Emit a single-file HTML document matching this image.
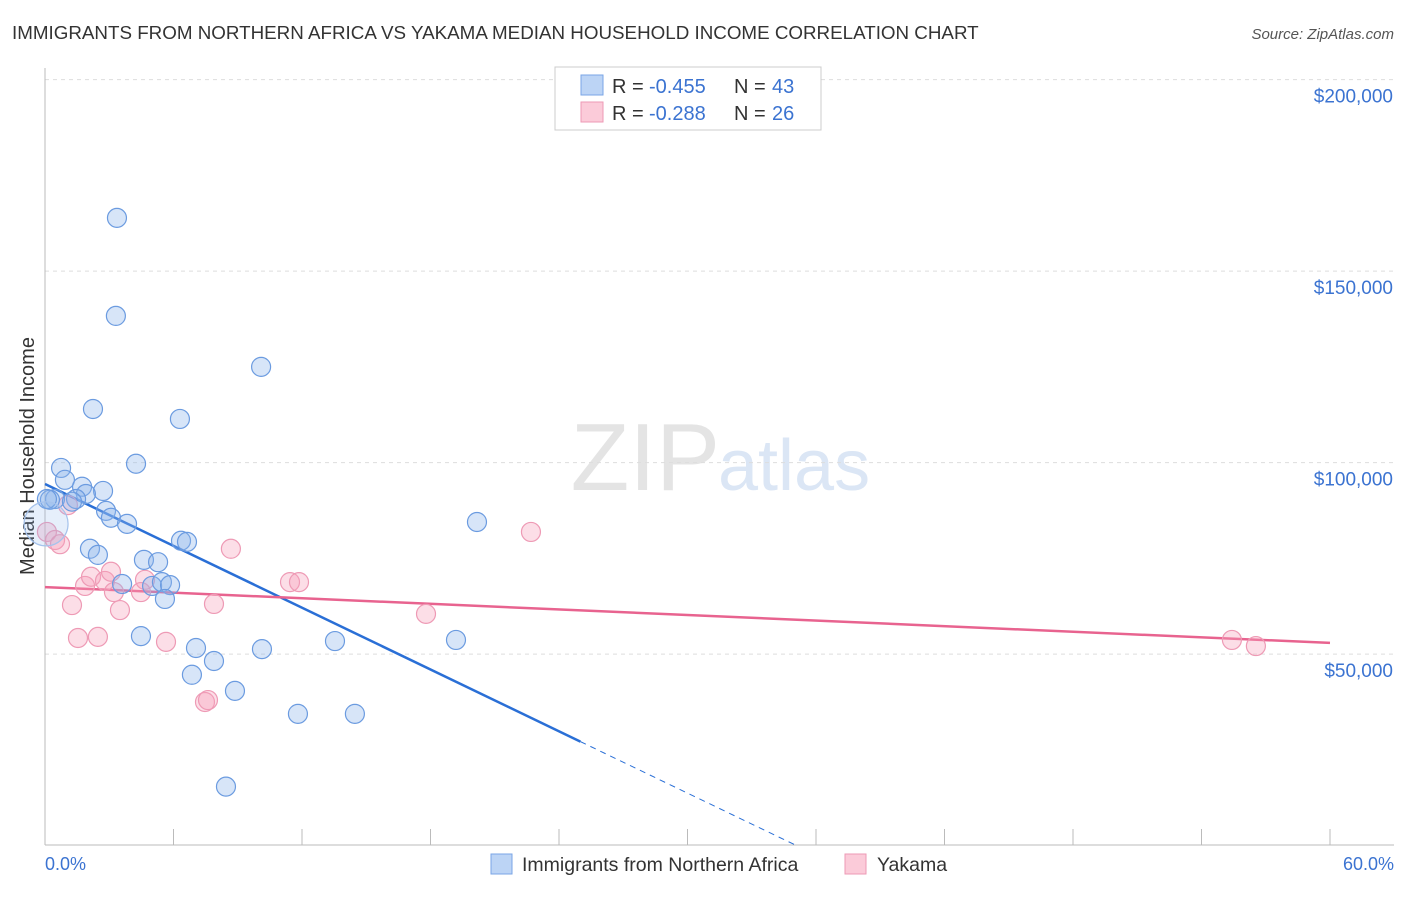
<!DOCTYPE html>
<html><head><meta charset="utf-8"><style>
body{margin:0;background:#fff;font-family:"Liberation Sans",sans-serif;}
svg text{font-family:"Liberation Sans",sans-serif;}
</style></head><body>
<svg id="chart" width="1406" height="892" xmlns="http://www.w3.org/2000/svg">
<text x="12" y="39" font-size="18.8" fill="#333">IMMIGRANTS FROM NORTHERN AFRICA VS YAKAMA MEDIAN HOUSEHOLD INCOME CORRELATION CHART</text>
<text x="1394" y="39" font-size="15" fill="#555" font-style="italic" text-anchor="end">Source: ZipAtlas.com</text>
<text x="720" y="490" font-size="96" fill="#e4e4e4" text-anchor="end" font-family="Liberation Serif">ZIP</text>
<text x="718" y="490" font-size="72" fill="#dbe6f5">atlas</text>
<g id="grid"></g>
<line x1="45" y1="68" x2="45" y2="845" stroke="#bbb"/>
<line x1="45" y1="845" x2="1394" y2="845" stroke="#bbb"/>
<g id="xticks"></g>
<text x="34" y="456" font-size="20" fill="#333" text-anchor="middle" transform="rotate(-90 34 456)">Median Household Income</text>
<text x="45" y="870" font-size="18" fill="#3b73d1">0.0%</text>
<text x="1394" y="870" font-size="18" fill="#3b73d1" text-anchor="end">60.0%</text>
<g id="lines"></g>
<g id="points"></g>
<g>
<rect x="555" y="67" width="266" height="63" fill="#fff" stroke="#ccc"/>
<rect x="581" y="75" width="22" height="20" fill="#bcd4f5" stroke="#7aa5e6"/>
<text x="612" y="93" font-size="20" fill="#333">R =</text><text x="649" y="93" font-size="20" fill="#3b73d1">-0.455</text>
<text x="734" y="93" font-size="20" fill="#333">N =</text><text x="772" y="93" font-size="20" fill="#3b73d1">43</text>
<rect x="581" y="102" width="22" height="20" fill="#fbcbd9" stroke="#ee9ab5"/>
<text x="612" y="120" font-size="20" fill="#333">R =</text><text x="649" y="120" font-size="20" fill="#3b73d1">-0.288</text>
<text x="734" y="120" font-size="20" fill="#333">N =</text><text x="772" y="120" font-size="20" fill="#3b73d1">26</text>
</g>
<g>
<rect x="491" y="854" width="21" height="20" fill="#bcd4f5" stroke="#7aa5e6"/>
<text x="522" y="871" font-size="19.5" fill="#333">Immigrants from Northern Africa</text>
<rect x="845" y="854" width="21" height="20" fill="#fbcbd9" stroke="#ee9ab5"/>
<text x="877" y="871" font-size="19.5" fill="#333">Yakama</text>
</g>
</svg>
<script>
const yTicks=[50000,100000,150000,200000];
const yTickLabels=["$50,000","$100,000","$150,000","$200,000"];
const xTicks=[0,6,12,18,24,30,36,42,48,54,60];
const blueX=[3.36,3.31,10.09,2.24,6.30,4.25,0.75,0.93,1.73,2.71,1.91,1.45,0.47,1.26,2.85,3.08,3.83,20.17,2.10,2.47,6.35,6.63,4.62,5.28,3.60,5.00,5.46,5.84,5.60,4.48,7.05,10.13,13.54,19.19,7.89,6.86,8.87,11.81,14.47,8.45,0.23,0.09,0.05];
const blueY=[163900,138300,125000,114000,111400,99700,98600,95500,93700,92600,91800,90500,90500,89800,87400,85600,84000,84500,77500,75900,79600,79300,74600,74000,68300,67800,68800,68000,64400,54700,51600,51300,53400,53700,48200,44600,40400,34400,34400,15400,90300,90500,84000];
const pinkX=[0.09,0.47,0.70,1.07,1.26,1.54,2.47,1.87,2.15,2.80,3.08,3.22,3.50,4.67,4.48,5.65,7.89,8.68,11.44,11.86,17.79,22.69,7.47,7.61,55.42,56.54];
const pinkY=[81900,79800,78700,88900,62800,54200,54500,67800,70200,69100,71500,66200,61500,69400,66200,53200,63100,77500,68800,68800,60500,81900,37500,38000,53700,52100];
const blueTrend=[94400,-2690];
const pinkTrend=[67500,-243];
const blueSolidEnd=25;
const NS="http://www.w3.org/2000/svg";
const xs=v=>45+v*(1285/60), ys=v=>845.6-v*(191.5/50000);
function mk(t,a,p){const e=document.createElementNS(NS,t);for(const k in a)e.setAttribute(k,a[k]);p.appendChild(e);return e;}
const grid=document.getElementById('grid');
yTicks.forEach((v,i)=>{
 const l=mk('line',{x1:45,x2:1394,y1:ys(v),y2:ys(v),stroke:'#ddd','stroke-dasharray':'4 4'},grid);
 
 
 const t=mk('text',{x:1393,y:ys(v)+23,'font-size':19,fill:'#3b73d1','text-anchor':'end'},grid);
 t.textContent=yTickLabels[i];
 
 
});
const xt=document.getElementById('xticks');
xTicks.forEach(v=>{
 const l=mk('line',{x1:xs(v),x2:xs(v),y1:829,y2:845,stroke:'#bbb'},xt);
 
 
});
const lines=document.getElementById('lines');
const bz=-blueTrend[0]/blueTrend[1];
let l1=mk('line',{x1:xs(0),y1:ys(blueTrend[0]),x2:xs(blueSolidEnd),y2:ys(blueTrend[0]+blueTrend[1]*blueSolidEnd),stroke:'#2a6fd6','stroke-width':2.5},lines);


let l2=mk('line',{x1:xs(blueSolidEnd),y1:ys(blueTrend[0]+blueTrend[1]*blueSolidEnd),x2:xs(bz),y2:ys(0),stroke:'#2a6fd6','stroke-width':1,'stroke-dasharray':'6 5'},lines);


let l3=mk('line',{x1:xs(0),y1:ys(pinkTrend[0]),x2:xs(60),y2:ys(pinkTrend[0]+pinkTrend[1]*60),stroke:'#e8638f','stroke-width':2.5},lines);


const pts=document.getElementById('points');
pinkX.forEach((x,i)=>{
 const c=mk('circle',{cx:xs(x),cy:ys(pinkY[i]),r:9.5,fill:'rgba(246,160,185,0.35)',stroke:'#ee9ab5','stroke-width':1.2},pts);
 
 
});
blueX.forEach((x,i)=>{
 const big=i===blueX.length-1;
 const c=mk('circle',{cx:xs(x),cy:ys(blueY[i]),r:big?22:9.5,fill:big?'rgba(140,180,235,0.22)':'rgba(140,180,235,0.35)',stroke:big?'#a6c3ec':'#6b9be0','stroke-width':1.2},pts);
 
 
});
</script>
</body></html>
